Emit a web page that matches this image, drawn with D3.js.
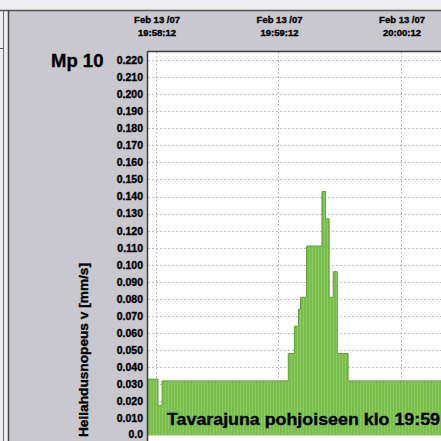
<!DOCTYPE html>
<html>
<head>
<meta charset="utf-8">
<script src="https://cdn.jsdelivr.net/npm/d3@7"></script>
<style>
  html, body { margin: 0; padding: 0; background: #fff; }
  svg { display: block; font-family: "Liberation Sans", Arial, sans-serif; }
</style>
</head>
<body>
<svg id="chart" width="441" height="441"></svg>
<script>
// Measurement point and recording start
const pointName = "Mp 10";
const recordStart = "2007-02-13T19:58:12";

// Vibration velocity as steps: start of each step in seconds after recordStart, and its value [mm/s]
const stepOffsets = [-4, 1.2, 3.2, 65, 68, 70, 71, 74, 81.5, 83.3, 85, 87, 89, 94.3];
const stepValues  = [0.033, 0.0175, 0.032, 0.048, 0.064, 0.074, 0.081, 0.111, 0.143, 0.127, 0.081, 0.096, 0.048, 0.032];
const stepEndOffset = 140;

// Axis ticks
const yTickValues = [0, 0.01, 0.02, 0.03, 0.04, 0.05, 0.06, 0.07, 0.08, 0.09, 0.10,
                     0.11, 0.12, 0.13, 0.14, 0.15, 0.16, 0.17, 0.18, 0.19, 0.20, 0.21, 0.22];
const yTickLabels = ["0.0", "0.010", "0.020", "0.030", "0.040", "0.050", "0.060", "0.070",
                     "0.080", "0.090", "0.100", "0.110", "0.120", "0.130", "0.140", "0.150",
                     "0.160", "0.170", "0.180", "0.190", "0.200", "0.210", "0.220"];
const xTickOffsets = [0, 60, 120];

const yAxisTitle = "Heilahdusnopeus v [mm/s]";
const eventNote = "Tavarajuna pohjoiseen klo 19:59";

const base = new Date(recordStart);
const at = s => new Date(base.getTime() + s * 1000);

const svg = d3.select("#chart");
const W = 441, H = 441;
const plot = { left: 148, top: 52, right: 441, bottom: 435.5 };

// Window frame
svg.append("rect").attr("x", 0).attr("y", 0).attr("width", W).attr("height", H).attr("fill", "#eeeef0");
svg.append("rect").attr("x", 9).attr("y", 11).attr("width", W - 9).attr("height", H - 11).attr("fill", "#c8c8ce");
svg.append("line").attr("x1", 0).attr("x2", W).attr("y1", 10.5).attr("y2", 10.5).attr("stroke", "#555").attr("stroke-width", 1.5);
svg.append("line").attr("x1", 3.5).attr("x2", 3.5).attr("y1", 10).attr("y2", H).attr("stroke", "#666").attr("stroke-width", 1);
svg.append("line").attr("x1", 8.5).attr("x2", 8.5).attr("y1", 10).attr("y2", H).attr("stroke", "#444").attr("stroke-width", 1.5);
svg.append("line").attr("x1", 0).attr("x2", 3).attr("y1", 48.5).attr("y2", 48.5).attr("stroke", "#555").attr("stroke-width", 1);

// Plot background
svg.append("rect")
  .attr("x", plot.left).attr("y", plot.top)
  .attr("width", plot.right - plot.left).attr("height", H - plot.top)
  .attr("fill", "#ffffff");

// Scales
const x = d3.scaleTime().domain([at(-3.7), at(139.8)]).range([plot.left, plot.right]);
const y = d3.scaleLinear().domain([0, 0.22]).range([plot.bottom, 60]);

// Grid
const grid = svg.append("g").attr("stroke", "#bcbcbc").attr("stroke-width", 1).attr("stroke-dasharray", "2,2");
grid.selectAll("line.h").data(yTickValues.filter(v => v > 0)).join("line")
  .attr("class", "h")
  .attr("x1", plot.left).attr("x2", plot.right)
  .attr("y1", d => Math.round(y(d)) + 0.5).attr("y2", d => Math.round(y(d)) + 0.5);
grid.selectAll("line.v").data(xTickOffsets).join("line")
  .attr("class", "v")
  .attr("x1", d => Math.round(x(at(d))) + 0.5).attr("x2", d => Math.round(x(at(d))) + 0.5)
  .attr("y1", plot.top).attr("y2", plot.bottom);

// Bar fill with fine vertical striping
const defs = svg.append("defs");
const pat = defs.append("pattern").attr("id", "barFill")
  .attr("patternUnits", "userSpaceOnUse").attr("width", 3).attr("height", 10);
pat.append("rect").attr("width", 3).attr("height", 10).attr("fill", "#79bd4a");
pat.append("rect").attr("width", 1).attr("height", 10).attr("fill", "#8ccb63");

// Step points: each step holds its value until the next one starts
const pts = stepOffsets.map((s, i) => ({ t: at(s), v: stepValues[i] }));
pts.push({ t: at(stepEndOffset), v: stepValues[stepValues.length - 1] });

const area = d3.area()
  .curve(d3.curveStepAfter)
  .x(d => x(d.t))
  .y0(y(0))
  .y1(d => y(d.v));
svg.append("path").datum(pts).attr("d", area).attr("fill", "url(#barFill)");

const topLine = d3.line().curve(d3.curveStepAfter).x(d => x(d.t)).y(d => y(d.v));
svg.append("path").datum(pts).attr("d", topLine).attr("fill", "none")
  .attr("stroke", "#5e9f39").attr("stroke-width", 1);

// Plot border
svg.append("line").attr("x1", plot.left).attr("x2", plot.right).attr("y1", plot.top - 0.5).attr("y2", plot.top - 0.5)
  .attr("stroke", "#3a3a3a").attr("stroke-width", 1.5);
svg.append("line").attr("x1", plot.left - 0.5).attr("x2", plot.left - 0.5).attr("y1", plot.top - 1).attr("y2", H)
  .attr("stroke", "#3a3a3a").attr("stroke-width", 1.5);

// Shared bold text styling (slightly heavy, like the printed original)
const heavy = sel => sel.attr("font-weight", "bold").attr("fill", "#000")
  .attr("stroke", "#000").attr("stroke-width", 0.35);

// Y axis labels
const yAxis = d3.axisLeft(y)
  .tickValues(yTickValues)
  .tickFormat((d, i) => yTickLabels[i])
  .tickSize(0).tickPadding(2);
const gy = svg.append("g").attr("transform", `translate(145,0)`).call(yAxis);
gy.select(".domain").remove();
gy.selectAll("text")
  .attr("font-family", "'Liberation Sans', Arial, sans-serif")
  .attr("font-size", 10.5).call(heavy);
gy.selectAll("text").filter((d, i) => i === 0).attr("dy", "0.15em");

// X axis labels (top band)
const fmtDate = d3.timeFormat("%b %d /%y");
const fmtTime = d3.timeFormat("%H:%M:%S");
const gx = svg.append("g").selectAll("g").data(xTickOffsets).join("g")
  .attr("transform", d => `translate(${x(at(d)) + 1.5},0)`);
gx.append("text").attr("y", 23).attr("text-anchor", "middle")
  .attr("font-size", 9.5).call(heavy)
  .text(d => fmtDate(at(d)));
gx.append("text").attr("y", 36).attr("text-anchor", "middle")
  .attr("font-size", 9.5).call(heavy)
  .text(d => fmtTime(at(d)));

// Measurement point name
svg.append("text").attr("x", 51).attr("y", 67)
  .attr("font-size", 18.5).call(heavy)
  .text(pointName);

// Y axis title
svg.append("text")
  .attr("transform", "translate(88,350) rotate(-90)")
  .attr("text-anchor", "middle")
  .attr("font-size", 12).call(heavy)
  .attr("textLength", 174).attr("lengthAdjust", "spacingAndGlyphs")
  .text(yAxisTitle);

// Event note inside the plot
svg.append("text").attr("x", 167).attr("y", 425)
  .attr("font-size", 16.5).call(heavy)
  .attr("textLength", 273).attr("lengthAdjust", "spacingAndGlyphs")
  .text(eventNote);
</script>
</body>
</html>
